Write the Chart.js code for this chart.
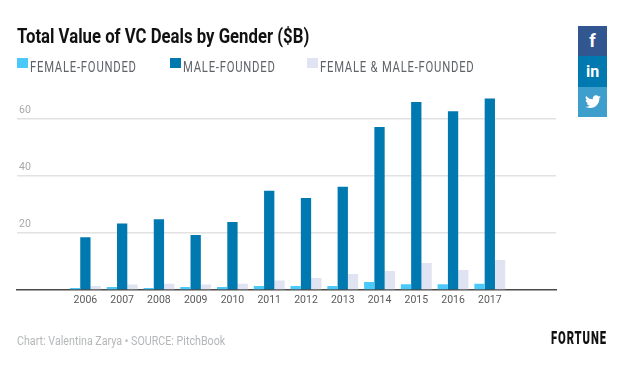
<!DOCTYPE html>
<html><head><meta charset="utf-8">
<script src="https://cdn.jsdelivr.net/npm/chart.js@4"></script>
<style>
html,body{margin:0;padding:0;background:#fff;width:630px;height:368px;overflow:hidden}
#wrap{position:relative;width:630px;height:368px;font-family:Roboto,sans-serif}
canvas{position:absolute;left:0;top:0}
.t{position:absolute;white-space:nowrap;transform-origin:0 0}
#title{left:17px;top:24px;font-size:20px;font-weight:700;color:#111;transform:scaleX(.837)}
.lg{top:59px;font-size:14px;color:#5f6368;letter-spacing:.95px;transform:scaleX(.805)}
.sw{position:absolute;top:58px;width:11px;height:10px}
#src{left:17px;top:333px;font-size:12.5px;color:#b4b6b8;transform:scaleX(.856)}
#fortune{left:551px;top:328px;font-size:17.5px;font-weight:900;color:#111;letter-spacing:1.4px;transform:scaleX(.64)}
.soc{position:absolute;left:578px;width:29px;color:#fff;text-align:center;font-weight:700;font-size:16px}
</style></head><body><div id="wrap">
<canvas id="c" width="630" height="368"></canvas>
<div class="t" id="title">Total Value of VC Deals by Gender ($B)</div>
<div class="sw" style="left:17px;background:#4cc9fb"></div><div class="t lg" style="left:30px">FEMALE-FOUNDED</div>
<div class="sw" style="left:170px;background:#0079b0"></div><div class="t lg" style="left:183px">MALE-FOUNDED</div>
<div class="sw" style="left:307px;background:#e0e4f2"></div><div class="t lg" style="left:320px">FEMALE &amp; MALE-FOUNDED</div>
<div class="t" id="src">Chart: Valentina Zarya • SOURCE: PitchBook</div>
<div class="t" id="fortune">FORTUNE</div>
<div class="soc" style="top:26px;height:30px;line-height:30px;background:#32568f;font-size:18px">f</div>
<div class="soc" style="top:56px;height:31px;line-height:31px;background:#0079b0">in</div>
<div class="soc" style="top:87px;height:30px;background:#3f9fcc"><svg width="16" height="14" viewBox="0 0 24 20" style="margin-top:8px"><path fill="#fff" d="M24 2.4c-.9.4-1.8.7-2.8.8 1-.6 1.8-1.6 2.2-2.7-1 .6-2 1-3.100 1.200C19.300.7 18 0 16.600 0c-2.700 0-4.900 2.200-4.900 4.900 0 .4 0 .8.1 1.100C7.700 5.800 4.100 3.900 1.700.9c-.4.700-.7 1.600-.7 2.500 0 1.700.9 3.200 2.200 4.100-.8 0-1.600-.2-2.200-.6v.1c0 2.400 1.700 4.400 3.900 4.800-.4.100-.8.200-1.300.2-.3 0-.6 0-.9-.1.600 2 2.400 3.400 4.600 3.400-1.700 1.300-3.800 2.100-6.100 2.100-.4 0-.8 0-1.200-.1C2.200 18.300 4.800 19 7.500 19c9.100 0 14-7.500 14-14v-.6c1-.7 1.800-1.600 2.500-2z"/></svg></div>
</div>
<script>
const years=[2006,2007,2008,2009,2010,2011,2012,2013,2014,2015,2016,2017];
const femaleFounded=[0.5,0.8,0.5,0.8,0.8,1.2,1.2,1.2,2.6,1.8,1.8,2.0];
const maleFounded=[18.3,23.1,24.6,19.1,23.7,34.6,32.1,36.0,57.0,65.8,62.5,67.0];
const bothFounded=[1.2,1.7,2.0,1.7,2.0,3.1,4.0,5.4,6.5,9.3,6.8,10.3];
const yTicks=[20,40,60];
const pts=a=>a.map((v,i)=>({x:years[i],y:v}));
new Chart(document.getElementById('c'),{
 type:'bar',
 data:{datasets:[
  {label:'FEMALE-FOUNDED',data:pts(femaleFounded),backgroundColor:'#4cc9fb'},
  {label:'MALE-FOUNDED',data:pts(maleFounded),backgroundColor:'#0079b0'},
  {label:'FEMALE & MALE-FOUNDED',data:pts(bothFounded),backgroundColor:'#e0e4f2'}
 ]},
 options:{
  responsive:false,animation:false,
  layout:{padding:{left:0,right:74,top:61.5,bottom:56}},
  plugins:{legend:{display:false},title:{display:false},tooltip:{enabled:false}},
  datasets:{bar:{barPercentage:1,categoryPercentage:.84}},
  scales:{
   x:{type:'linear',position:'bottom',min:2004.14,max:2018.8,offset:false,
      afterBuildTicks(ax){ax.ticks=years.map(v=>({value:v}));},
      border:{display:true,color:'#4a4a4a',width:1.5},
      grid:{display:false,drawTicks:false},
      ticks:{autoSkip:false,maxRotation:0,padding:5,color:'#5a5a5a',font:{family:'Roboto',size:10.5},callback:v=>String(v)}},
   y:{position:'left',min:0,max:80,
      afterBuildTicks(ax){ax.ticks=yTicks.map(v=>({value:v}));},
      afterFit(ax){ax.width=17;},
      border:{display:false},
      grid:{color:'#e2e2e2',lineWidth:1.5,drawTicks:false},
      ticks:{mirror:true,padding:2,labelOffset:-8,color:'#a8a8a8',font:{family:'Roboto',size:10.5}}}
  }
 }
});
</script></body></html>
